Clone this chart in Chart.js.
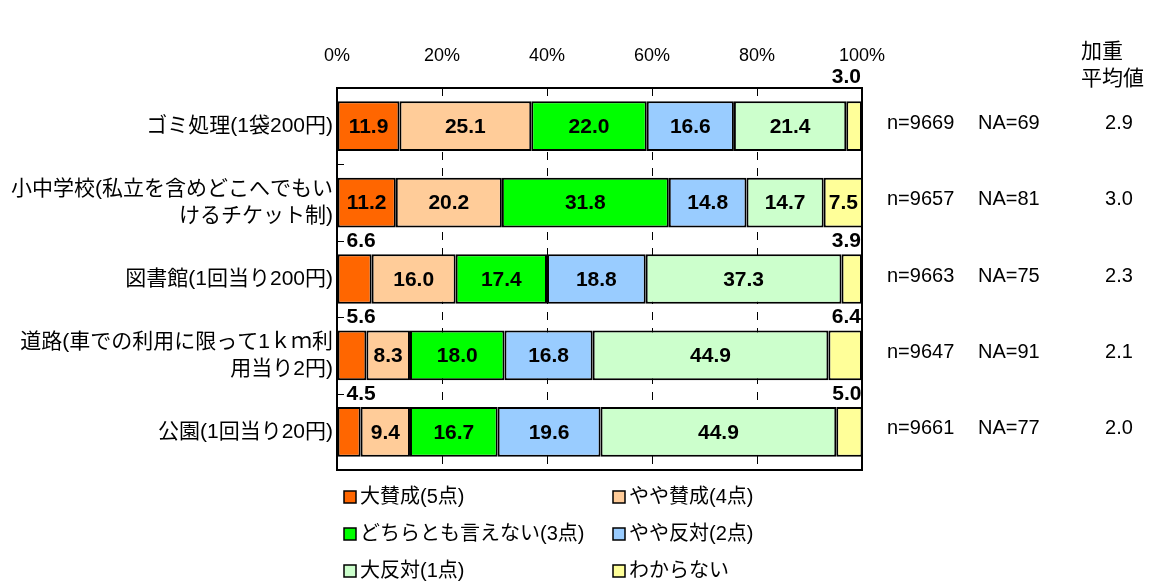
<!DOCTYPE html>
<html><head><meta charset="utf-8">
<script src="https://cdn.jsdelivr.net/npm/chart.js@4/dist/chart.umd.min.js"></script>
<style>html,body{margin:0;padding:0;background:#fff;} #wrap{width:1160px;height:583px;position:relative;}</style>
</head><body><div id="wrap"><canvas id="c" width="1160" height="583"></canvas></div>
<script>
const categories = [
  ["ゴミ処理(1袋200円)"],
  ["小中学校(私立を含めどこへでもい", "けるチケット制)"],
  ["図書館(1回当り200円)"],
  ["道路(車での利用に限って1ｋｍ利", "用当り2円)"],
  ["公園(1回当り20円)"]
];
const seriesNames = ["大賛成(5点)", "やや賛成(4点)", "どちらとも言えない(3点)", "やや反対(2点)", "大反対(1点)", "わからない"];
const seriesColors = ["#FF6600", "#FFCC99", "#00FF00", "#99CCFF", "#CCFFCC", "#FFFF99"];
const strongAgree    = [11.9, 11.2, 6.6, 5.6, 4.5];
const agree          = [25.1, 20.2, 16.0, 8.3, 9.4];
const neutral        = [22.0, 31.8, 17.4, 18.0, 16.7];
const disagree       = [16.6, 14.8, 18.8, 16.8, 19.6];
const strongDisagree = [21.4, 14.7, 37.3, 44.9, 44.9];
const unknown        = [3.0, 7.5, 3.9, 6.4, 5.0];
const nValues   = ["n=9669", "n=9657", "n=9663", "n=9647", "n=9661"];
const naValues  = ["NA=69", "NA=81", "NA=75", "NA=91", "NA=77"];
const avgValues = ["2.9", "3.0", "2.3", "2.1", "2.0"];
const avgHeader = ["加重", "平均値"];
const xTickValues = [0, 20, 40, 60, 80, 100];

const seriesData = [strongAgree, agree, neutral, disagree, strongDisagree, unknown];
const NUM_FONT = '"Liberation Sans", Arial, sans-serif';
const JP_FONT = '"Liberation Sans", "Noto Sans CJK JP", sans-serif';

const decorPlugin = {
  id: 'decor',
  afterDatasetsDraw(chart) {
    const ctx = chart.ctx, ca = chart.chartArea;
    const ys = chart.scales.y;
    ctx.save();
    // outer frame
    ctx.strokeStyle = '#000'; ctx.lineWidth = 2; ctx.setLineDash([]);
    ctx.strokeRect(ca.left, ca.top, ca.right - ca.left, ca.bottom - ca.top);
    // category boundary ticks inside left edge
    ctx.lineWidth = 1;
    for (let i = 0; i < categories.length - 1; i++) {
      const yb = Math.round((ys.getPixelForValue(i) + ys.getPixelForValue(i + 1)) / 2) + 0.5;
      ctx.beginPath(); ctx.moveTo(ca.left, yb); ctx.lineTo(ca.left + 7, yb); ctx.stroke();
    }
    // value labels
    ctx.fillStyle = '#000';
    ctx.font = 'bold 21px ' + NUM_FONT;
    const last = seriesData.length - 1;
    chart.data.datasets.forEach((ds, di) => {
      const meta = chart.getDatasetMeta(di);
      meta.data.forEach((el, j) => {
        const v = ds.data[j];
        const txt = v.toFixed(1);
        const top = el.y - el.height / 2;
        if (v >= 7) {
          ctx.textAlign = 'center'; ctx.textBaseline = 'middle';
          ctx.fillText(txt, (el.x + el.base) / 2, el.y + 1);
        } else {
          let ly = top - 13;
          if (ly < ca.top + 8) ly = ca.top - 11;
          ctx.textBaseline = 'middle';
          if (di === last) { ctx.textAlign = 'right'; ctx.fillText(txt, el.x - 1, ly); }
          else { ctx.textAlign = 'left'; ctx.fillText(txt, el.base + 9, ly); }
        }
      });
    });
    // right side stats
    ctx.font = '20px ' + NUM_FONT;
    ctx.textBaseline = 'middle';
    categories.forEach((c, i) => {
      const y = ys.getPixelForValue(i) - 3;
      ctx.textAlign = 'left';
      ctx.fillText(nValues[i], ca.right + 25, y);
      ctx.fillText(naValues[i], ca.right + 116, y);
      ctx.textAlign = 'center';
      ctx.fillText(avgValues[i], ca.right + 257, y);
    });
    ctx.font = '21px "Noto Sans CJK JP", sans-serif';
    ctx.textAlign = 'left';
    avgHeader.forEach((t, k) => ctx.fillText(t, ca.right + 219, 50 + k * 27));
    // legend
    ctx.font = '20px ' + JP_FONT;
    chart.data.datasets.forEach((ds, di) => {
      const col = di % 2, row = Math.floor(di / 2);
      const x = ca.left + 7 + col * 269;
      const y = ca.bottom + 27 + row * 37;
      ctx.fillStyle = ds.backgroundColor;
      ctx.fillRect(x, y - 6, 12, 12);
      ctx.strokeStyle = '#000'; ctx.lineWidth = 1.5;
      ctx.strokeRect(x, y - 6, 12, 12);
      ctx.fillStyle = '#000';
      ctx.textAlign = 'left'; ctx.textBaseline = 'middle';
      ctx.fillText(ds.label, x + 16, y);
    });
    ctx.restore();
  }
};

new Chart(document.getElementById('c'), {
  type: 'bar',
  data: {
    labels: categories,
    datasets: seriesNames.map((name, i) => ({
      label: name,
      data: seriesData[i],
      backgroundColor: seriesColors[i],
      borderColor: '#000',
      borderWidth: 2,
      borderSkipped: false,
      barPercentage: 0.65,
      categoryPercentage: 1.0
    }))
  },
  options: {
    indexAxis: 'y',
    responsive: false,
    animation: false,
    devicePixelRatio: 1,
    layout: { padding: { left: 0, right: 298, top: 0, bottom: 113 } },
    plugins: { legend: { display: false }, tooltip: { enabled: false } },
    scales: {
      x: {
        position: 'top',
        stacked: true,
        min: 0, max: 100,
        afterBuildTicks: (s) => { s.ticks = xTickValues.map(v => ({ value: v })); },
        afterFit: (s) => { s.height = 88; },
        ticks: {
          color: '#000',
          padding: 21,
          font: { family: NUM_FONT, size: 18 },
          callback: (v) => v + '%'
        },
        grid: {
          drawTicks: false,
          color: (c) => (c.tick && (c.tick.value === 0 || c.tick.value === 100)) ? 'rgba(0,0,0,0)' : '#000',
          lineWidth: 1
        },
        border: { display: false, dash: [8, 8], dashOffset: 0 }
      },
      y: {
        stacked: true,
        afterFit: (s) => { s.width = 337; },
        ticks: {
          color: '#000',
          padding: 4,
          font: { family: JP_FONT, size: 21, lineHeight: 1.3 }
        },
        grid: { display: false, drawTicks: false },
        border: { display: false }
      }
    }
  },
  plugins: [decorPlugin]
});
</script>
</body></html>
